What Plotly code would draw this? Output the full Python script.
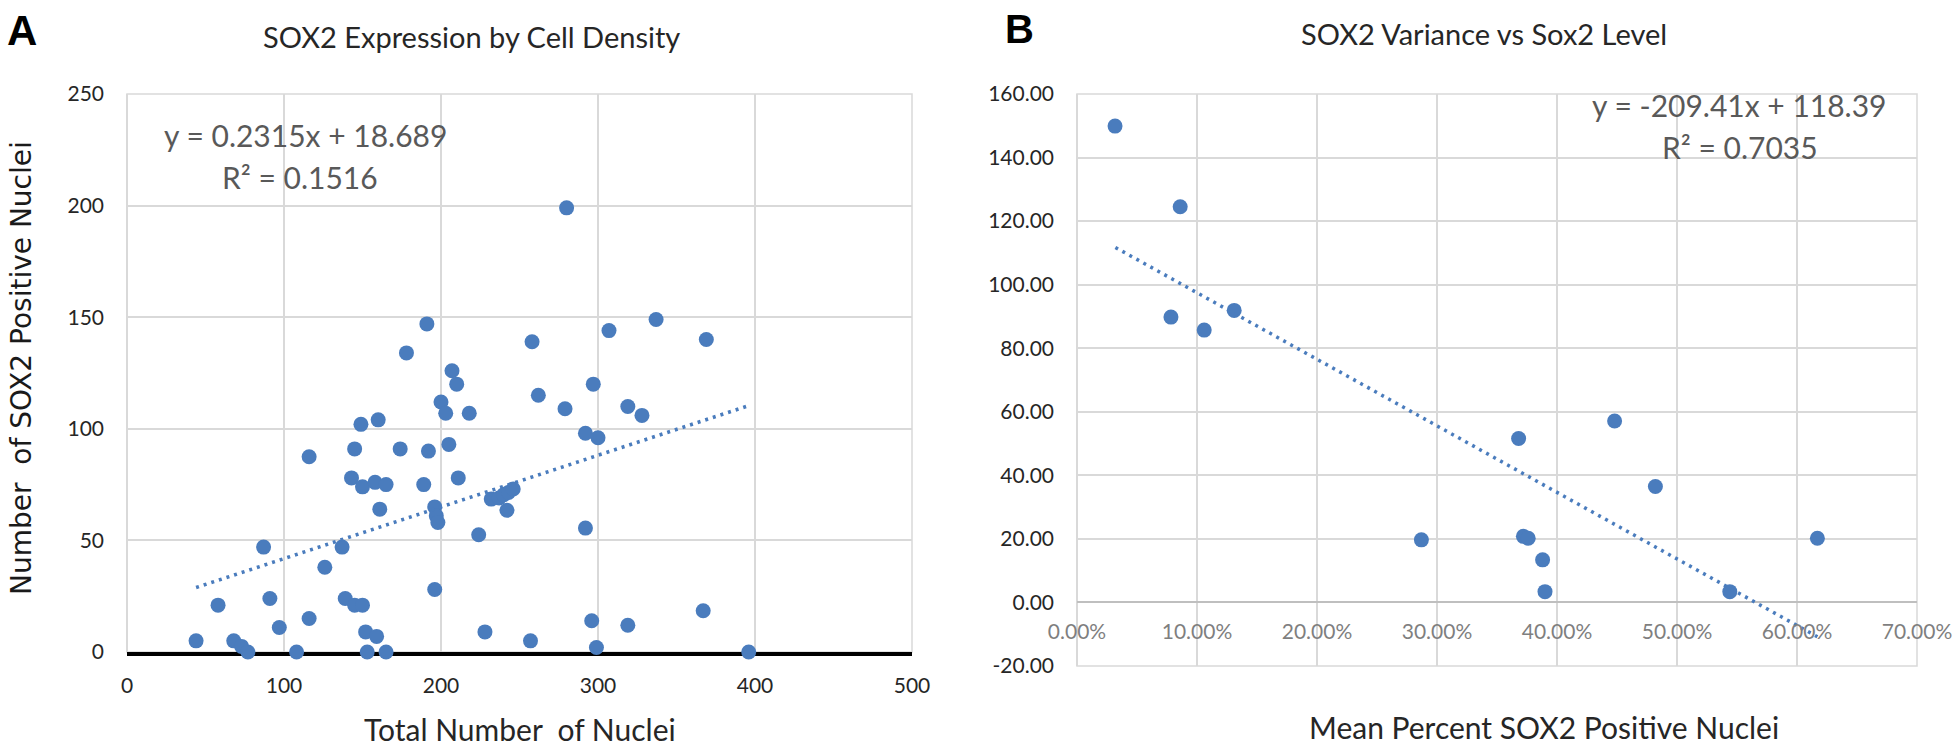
import plotly.graph_objects as go

W, H = 1958, 746

# ---------------- Panel A data ----------------
total_nuclei = [44, 58, 68, 73, 77, 87, 91, 97, 108, 116, 116, 126, 137, 139, 143, 145,
                145, 150, 149, 150, 152, 153, 159, 158, 160, 161, 165, 165, 174, 178,
                189, 191, 192, 196, 196, 197, 198, 200, 203, 205, 207, 210, 211, 218,
                224, 228, 232, 237, 240, 243, 246, 242, 257, 258, 262, 279, 280, 292,
                292, 296, 297, 299, 300, 307, 319, 319, 328, 337, 367, 369, 396]
sox2_positive = [5, 21, 5, 2.5, 0, 47, 24, 11, 0, 87.5, 15, 38, 47, 24, 78, 91,
                 21, 21, 102, 74, 9, 0, 7, 76, 104, 64, 75, 0, 91, 134,
                 75, 147, 90, 28, 65, 61, 58, 112, 107, 93, 126, 120, 78, 107,
                 52.5, 9, 68.5, 69, 70.5, 71.5, 73, 63.5, 5, 139, 115, 109, 199, 98,
                 55.5, 14, 120, 2, 96, 144, 110, 12, 106, 149, 18.5, 140, 0]
trend_a_x = [44, 397]
trend_a_y = [28.9, 110.6]

# ---------------- Panel B data ----------------
mean_pct_sox2 = [0.0317, 0.086, 0.0783, 0.106, 0.131, 0.287, 0.368, 0.372, 0.376,
                 0.388, 0.390, 0.448, 0.482, 0.544, 0.617]
sox2_variance = [149.9, 124.5, 89.8, 85.7, 91.9, 19.7, 51.6, 20.8, 20.2,
                 13.4, 3.4, 57.1, 36.5, 3.4, 20.2]
trend_b_x = [0.032, 0.617]
trend_b_y = [111.7, -10.8]

a_xticks = [0, 100, 200, 300, 400, 500]
a_yticks = [0, 50, 100, 150, 200, 250]
b_xticks = [0.0, 0.1, 0.2, 0.3, 0.4, 0.5, 0.6, 0.7]
b_xtick_text = ["0.00%", "10.00%", "20.00%", "30.00%", "40.00%", "50.00%", "60.00%", "70.00%"]
b_yticks = [-20, 0, 20, 40, 60, 80, 100, 120, 140, 160]
b_ytick_text = ["-20.00", "0.00", "20.00", "40.00", "60.00", "80.00", "100.00", "120.00", "140.00", "160.00"]

BLUE = "#4A7CBD"
GRID = "#d9d9d9"
FONT = "Lato"
TXT = "#262626"
EQ = "#595959"


def fx(px):
    return px / W


def fy(py):
    return 1 - py / H


A_X = (127, 912)
A_Y = (94, 652)
B_X = (1077, 1917)
B_Y = (94, 666)

fig = go.Figure()

fig.add_trace(go.Scatter(x=total_nuclei, y=sox2_positive, mode="markers",
                         marker=dict(color=BLUE, size=15), cliponaxis=False,
                         xaxis="x", yaxis="y", showlegend=False))
fig.add_trace(go.Scatter(x=trend_a_x, y=trend_a_y, mode="lines",
                         line=dict(color=BLUE, width=3.5, dash="3px,5px"),
                         xaxis="x", yaxis="y", showlegend=False))
fig.add_trace(go.Scatter(x=mean_pct_sox2, y=sox2_variance, mode="markers",
                         marker=dict(color=BLUE, size=15), cliponaxis=False,
                         xaxis="x2", yaxis="y2", showlegend=False))
fig.add_trace(go.Scatter(x=trend_b_x, y=trend_b_y, mode="lines",
                         line=dict(color=BLUE, width=3.5, dash="3px,5px"),
                         xaxis="x2", yaxis="y2", showlegend=False))

b_yrange = [-20, 160]
b_ydom = [fy(B_Y[1]), fy(B_Y[0])]
b_xpos = b_ydom[0] + (0 - b_yrange[0]) / (b_yrange[1] - b_yrange[0]) * (b_ydom[1] - b_ydom[0])

tickfont_dark = dict(family=FONT, size=21, color=TXT)

fig.update_layout(
    width=W, height=H, margin=dict(l=0, r=0, t=0, b=0, autoexpand=False),
    paper_bgcolor="white", plot_bgcolor="white",
    xaxis=dict(domain=[fx(A_X[0]), fx(A_X[1])], anchor="y", range=[0, 500],
               tickvals=a_xticks, showgrid=True, gridcolor=GRID, gridwidth=1.5,
               zeroline=True, zerolinecolor=GRID, zerolinewidth=1.5,
               showline=True, linecolor="black", linewidth=4, ticks="",
               tickfont=tickfont_dark, ticklabelstandoff=12, layer="below traces",
               automargin=False),
    yaxis=dict(domain=[fy(A_Y[1]), fy(A_Y[0])], anchor="x", range=[0, 250],
               tickvals=a_yticks, showgrid=True, gridcolor=GRID, gridwidth=1.5,
               zeroline=False, showline=False, ticks="",
               tickfont=tickfont_dark, ticklabelstandoff=22, automargin=False),
    xaxis2=dict(domain=[fx(B_X[0]), fx(B_X[1])], anchor="free", position=b_xpos,
                range=[0, 0.7], tickvals=b_xticks, ticktext=b_xtick_text,
                showgrid=True, gridcolor=GRID, gridwidth=1.5,
                zeroline=True, zerolinecolor=GRID, zerolinewidth=1.5,
                showline=False, ticks="",
                tickfont=dict(family=FONT, size=21, color="#7f7f7f"),
                ticklabelstandoff=15, automargin=False),
    yaxis2=dict(domain=b_ydom, anchor="x2", range=b_yrange,
                tickvals=b_yticks, ticktext=b_ytick_text,
                showgrid=True, gridcolor=GRID, gridwidth=1.5,
                zeroline=True, zerolinecolor="#bfbfbf", zerolinewidth=2,
                showline=False, ticks="",
                tickfont=tickfont_dark, ticklabelstandoff=22, automargin=False),
)

# plot-area borders (Excel style frame)
fig.add_shape(type="rect", xref="x domain", yref="y domain", x0=0, x1=1, y0=0, y1=1,
              line=dict(color=GRID, width=1.5), layer="below")
fig.add_shape(type="rect", xref="x2 domain", yref="y2 domain", x0=0, x1=1, y0=0, y1=1,
              line=dict(color=GRID, width=1.5), layer="below")

ann = []
# panel letters
ann.append(dict(text="A", x=fx(22), y=fy(30),
                font=dict(family="Liberation Sans", size=42, color="black", weight="bold")))
ann.append(dict(text="B", x=fx(1019), y=fy(29),
                font=dict(family="Liberation Sans", size=40, color="black", weight="bold")))
# titles
ann.append(dict(text="SOX2 Expression by Cell Density", x=fx(471), y=fy(36),
                font=dict(family=FONT, size=29, color=TXT)))
ann.append(dict(text="SOX2 Variance vs Sox2 Level", x=fx(1484), y=fy(33),
                font=dict(family=FONT, size=29, color=TXT)))
# axis titles
ann.append(dict(text="Total Number  of Nuclei", x=fx(520), y=fy(729),
                font=dict(family=FONT, size=30, color=TXT)))
ann.append(dict(text="Mean Percent SOX2 Positive Nuclei", x=fx(1544), y=fy(727),
                font=dict(family=FONT, size=30, color=TXT)))
ann.append(dict(text="Number  of SOX2 Positive Nuclei", x=fx(21), y=fy(368), textangle=-90,
                font=dict(family="DejaVu Sans", size=28, color="#1a1a1a")))
# equations
ann.append(dict(text="y = 0.2315x + 18.689", x=fx(305), y=fy(135),
                font=dict(family=FONT, size=30, color=EQ)))
ann.append(dict(text="R² = 0.1516", x=fx(300), y=fy(177),
                font=dict(family=FONT, size=30, color=EQ)))
ann.append(dict(text="y = -209.41x + 118.39", x=fx(1739), y=fy(105),
                font=dict(family=FONT, size=30, color=EQ)))
ann.append(dict(text="R² = 0.7035", x=fx(1740), y=fy(147),
                font=dict(family=FONT, size=30, color=EQ)))

for a in ann:
    a.update(xref="paper", yref="paper", showarrow=False, xanchor="center", yanchor="middle")
fig.update_layout(annotations=ann)

fig.write_html("out.html", config={"displayModeBar": False},
               post_script="document.body.style.margin='0px';")
